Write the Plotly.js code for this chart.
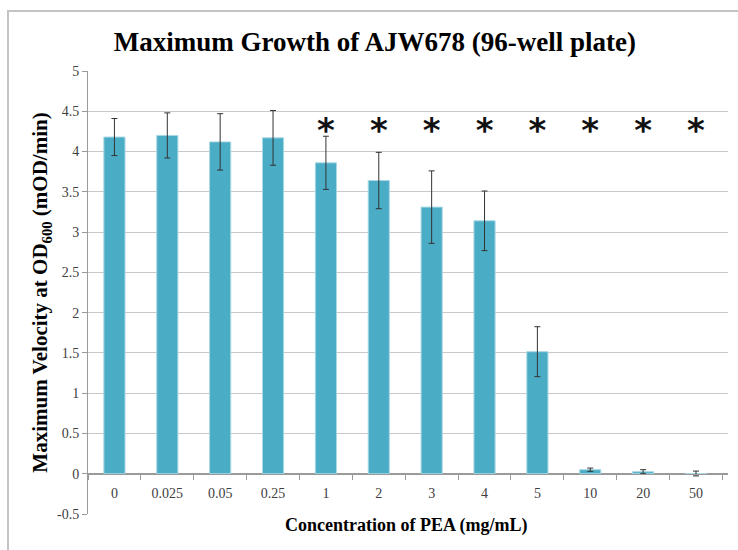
<!DOCTYPE html>
<html>
<head>
<meta charset="utf-8">
<script src="https://cdn.plot.ly/plotly-3.0.1.min.js"></script>
<style>
  html, body { margin: 0; padding: 0; background: #fff; }
  #frame { position: absolute; left: 7px; top: 10px; width: 760px; height: 600px; border-left: 2px solid #c4c4c4; border-top: 2px solid #c4c4c4; box-sizing: border-box; pointer-events: none; z-index: 5; }
  #chart { position: absolute; left: 0; top: 0; width: 738px; height: 550px; }
</style>
</head>
<body>
<div id="chart"></div>
<div id="frame"></div>
<script>
// Data
const categories = ['0', '0.025', '0.05', '0.25', '1', '2', '3', '4', '5', '10', '20', '50'];
const velocity   = [4.18, 4.20, 4.12, 4.17, 3.86, 3.64, 3.31, 3.14, 1.515, 0.05, 0.025, 0.003];
const errorBars  = [0.23, 0.28, 0.35, 0.34, 0.33, 0.35, 0.45, 0.37, 0.31, 0.02, 0.025, 0.03];
const starCategories = ['1', '2', '3', '4', '5', '10', '20', '50'];
const yTickValues = [-0.5, 0, 0.5, 1, 1.5, 2, 2.5, 3, 3.5, 4, 4.5, 5];
const yTickLabels = ['-0.5', '0', '0.5', '1', '1.5', '2', '2.5', '3', '3.5', '4', '4.5', '5'];

const starLevel = 4.22;
const yMin = -0.5, yMax = 5;
const serif = '"Liberation Serif", "Times New Roman", serif';

const barTrace = {
  type: 'bar',
  x: categories,
  y: velocity,
  marker: { color: '#4BACC6', line: { color: '#a8d8e4', width: 1 } },
  error_y: { type: 'data', array: errorBars, visible: true, color: '#333333', thickness: 1, width: 3 },
  hoverinfo: 'x+y'
};

const starTrace = {
  type: 'scatter',
  mode: 'text',
  x: starCategories,
  y: starCategories.map(() => starLevel),
  text: starCategories.map(() => '<b>*</b>'),
  textposition: 'middle center',
  textfont: { family: 'DejaVu Sans', size: 34, color: '#111111' },
  hoverinfo: 'skip'
};

const layout = {
  width: 738,
  height: 550,
  margin: { l: 88, r: 10, t: 71, b: 36 },
  paper_bgcolor: '#ffffff',
  plot_bgcolor: '#ffffff',
  showlegend: false,
  bargap: 0.6,
  title: {
    text: '<b>Maximum Growth of AJW678 (96-well plate)</b>',
    font: { family: serif, size: 27, color: '#000000' },
    x: 0.508, xanchor: 'center',
    y: 0.925, yanchor: 'middle'
  },
  xaxis: {
    type: 'category',
    categoryorder: 'array',
    categoryarray: categories,
    anchor: 'free',
    position: (0 - yMin) / (yMax - yMin),
    showline: true,
    linecolor: '#9a9a9a',
    linewidth: 1,
    ticks: 'outside',
    tickson: 'boundaries',
    ticklen: 5,
    tickcolor: '#9a9a9a',
    ticklabelstandoff: 6,
    showgrid: false,
    tickfont: { family: serif, size: 14, color: '#404040' },
    fixedrange: true
  },
  yaxis: {
    range: [yMin, yMax],
    tickvals: yTickValues,
    ticktext: yTickLabels,
    showline: true,
    linecolor: '#9a9a9a',
    linewidth: 1,
    ticks: 'outside',
    ticklen: 5,
    tickcolor: '#9a9a9a',
    showgrid: true,
    gridcolor: '#c8c8c8',
    gridwidth: 1,
    zeroline: true,
    zerolinecolor: '#9a9a9a',
    zerolinewidth: 1,
    tickfont: { family: serif, size: 14, color: '#404040' },
    title: {
      text: '<b>Maximum Velocity at OD<sub>600</sub> (mOD/min)</b>',
      font: { family: serif, size: 21, color: '#000000' },
      standoff: 3
    },
    fixedrange: true
  },
  annotations: [{
    text: '<b>Concentration of PEA (mg/mL)</b>',
    xref: 'paper', yref: 'paper',
    x: 0.497, y: -0.027,
    xanchor: 'center', yanchor: 'middle',
    showarrow: false,
    font: { family: serif, size: 18, color: '#000000' }
  }]
};

Plotly.newPlot('chart', [barTrace, starTrace], layout, { displayModeBar: false, staticPlot: true });
</script>
</body>
</html>
